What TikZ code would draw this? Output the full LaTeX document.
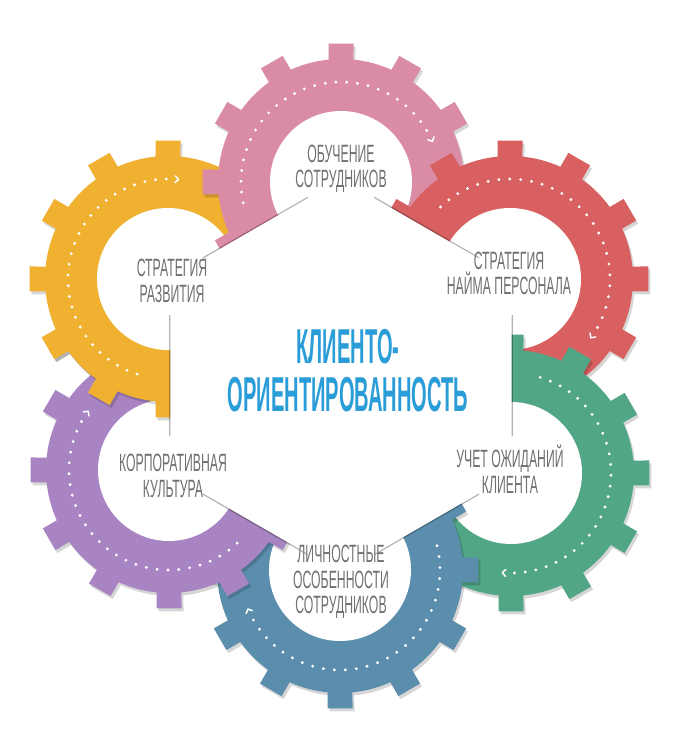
\documentclass[tikz,border=0pt]{standalone}
\usepackage{fontspec}
\usetikzlibrary{calc}
\newfontfamily\labfont[FakeStretch=0.49]{Liberation Sans}
\newfontfamily\titlefont[FakeStretch=0.41]{Liberation Sans}
\definecolor{yellowG}{RGB}{240,176,48}
\definecolor{pinkG}{RGB}{219,140,165}
\definecolor{redG}{RGB}{216,96,96}
\definecolor{greenG}{RGB}{80,166,133}
\definecolor{blueG}{RGB}{90,142,172}
\definecolor{purpleG}{RGB}{168,132,194}
\definecolor{titleBlue}{RGB}{42,157,216}
\definecolor{labGray}{RGB}{112,112,112}
\newcommand{\drawgear}[5]{%
 \begin{scope}[shift={(#1,#2)}]
  \fill[black, opacity=0.16, shift={(2,-3)}] (-5.83:123)
    \foreach \k in {0,...,11}{ -- ({30*\k-5.16}:139) -- ({30*\k+5.16}:139) -- ({30*\k+5.83}:123)
    arc[start angle={30*\k+5.83}, end angle={30*\k+24.17}, radius=123]} -- cycle;
  \fill[#3] (-5.83:123)
    \foreach \k in {0,...,11}{ -- ({30*\k-5.16}:139) -- ({30*\k+5.16}:139) -- ({30*\k+5.83}:123)
    arc[start angle={30*\k+5.83}, end angle={30*\k+24.17}, radius=123]} -- cycle;
  \fill[white] (0,0) circle[radius=71];
  \foreach \t in {0,...,26}{\fill[white] ({#4-\t*(#4-#5-6)/26}:100) circle[radius=1.6];}
  \begin{scope}[rotate=#5]
   \draw[white, line width=1.5, line cap=round, line join=round] (96.6,1.6) -- (100,-1.8) -- (103.4,1.6);
  \end{scope}
 \end{scope}}
\begin{document}
\begin{tikzpicture}[x=1pt,y=1pt,
  lab/.style={inner sep=0pt, align=center, text=labGray, font=\labfont\fontsize{25}{25.5}\selectfont},
  ttl/.style={inner sep=0pt, align=center, text=titleBlue, font=\titlefont\bfseries\fontsize{49}{48}\selectfont},
  hexshadow/.style={black, opacity=0.3, line width=2.6, shorten <=38pt, shorten >=38pt}]
\fill[white] (0,0) rectangle (683,748);
\useasboundingbox (0,0) rectangle (683,748);
% gears
\drawgear{168}{469}{yellowG}{252}{85}
\drawgear{341}{566}{pinkG}{192}{25}
\drawgear{510}{469}{redG}{134}{-35}
\drawgear{511}{275}{greenG}{73}{-94}
\drawgear{340}{178}{blueG}{14}{-156}
\drawgear{169}{278}{purpleG}{-47}{-215}
\begin{scope}
 \clip (0,0) rectangle (341,422);
 \drawgear{168}{469}{yellowG}{252}{85}
\end{scope}
% hexagon
\coordinate (c) at (341,372);
\coordinate (h1) at ($(c)+(90:197)$);
\coordinate (h2) at ($(c)+(30:197)$);
\coordinate (h3) at ($(c)+(-30:197)$);
\coordinate (h4) at ($(c)+(-90:197)$);
\coordinate (h5) at ($(c)+(-150:197)$);
\coordinate (h6) at ($(c)+(150:197)$);
\draw[hexshadow] (h1) -- (h2);
\draw[hexshadow] (h2) -- (h3);
\draw[hexshadow] (h3) -- (h4);
\draw[hexshadow] (h4) -- (h5);
\draw[hexshadow] (h5) -- (h6);
\draw[hexshadow] (h6) -- (h1);
\fill[white] (h1) -- (h2) -- (h3) -- (h4) -- (h5) -- (h6) -- cycle;
% texts
\node[ttl] (title) at (348,377.5) {КЛИЕНТО-\\ОРИЕНТИРОВАННОСТЬ};
\node[lab] (tpink) at (341,579) {ОБУЧЕНИЕ\\СОТРУДНИКОВ};
\node[lab] (tred) at (509,474.5) {СТРАТЕГИЯ\\НАЙМА ПЕРСОНАЛА};
\node[lab] (tyellow) at (172,467) {СТРАТЕГИЯ\\РАЗВИТИЯ};
\node[lab] (tpurple) at (173,272) {КОРПОРАТИВНАЯ\\КУЛЬТУРА};
\node[lab] (tgreen) at (510,278.5) {УЧЕТ ОЖИДАНИЙ\\КЛИЕНТА};
\node[lab] (tblue) at (341,166) {ЛИЧНОСТНЫЕ\\ОСОБЕННОСТИ\\СОТРУДНИКОВ};
\end{tikzpicture}
\end{document}
